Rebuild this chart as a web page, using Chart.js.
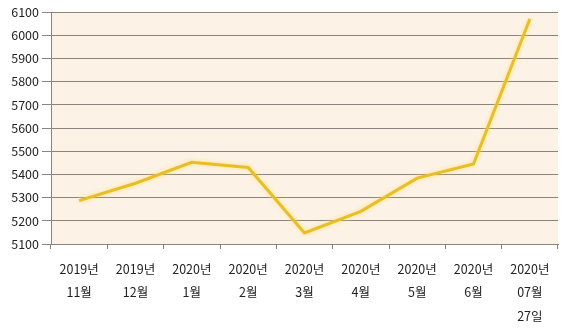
<!DOCTYPE html>
<html>
<head>
<meta charset="utf-8">
<script src="https://cdn.jsdelivr.net/npm/chart.js@4"></script>
<style>
  html, body { margin: 0; padding: 0; background: #fff; }
  #wrap { width: 565px; height: 336px; }
</style>
</head>
<body>
<div id="wrap"><canvas id="grafica"></canvas></div>
<script>
// datos
const etiquetas = [
    ['2019년', '11월'], ['2019년', '12월'], ['2020년', '1월'], ['2020년', '2월'],
    ['2020년', '3월'], ['2020년', '4월'], ['2020년', '5월'], ['2020년', '6월'],
    ['2020년', '07월', '27일']
];
const valores = [5287, 5362, 5452, 5430, 5148, 5241, 5384, 5445, 6070];
const yMin = 5100;
const yMax = 6100;
const yPaso = 100;

const fondoArea = {
    id: 'fondoArea',
    beforeDraw(chart) {
        const { ctx, chartArea: a } = chart;
        ctx.save();
        ctx.fillStyle = '#FDF2E6';
        ctx.fillRect(a.left, a.top, a.right - a.left, a.bottom - a.top);
        ctx.restore();
    },
    beforeDatasetsDraw(chart) {
        chart.ctx.save();
        chart.ctx.shadowColor = 'rgba(255, 225, 90, 0.8)';
        chart.ctx.shadowBlur = 4;
    },
    afterDatasetsDraw(chart) {
        chart.ctx.restore();
    }
};

const fuente = { family: "'Noto Sans CJK KR', 'DejaVu Sans', sans-serif", size: 12.5, lineHeight: 1.9 };

new Chart(document.getElementById('grafica').getContext('2d'), {
    type: 'line',
    data: {
        labels: etiquetas,
        datasets: [{
            data: valores,
            borderColor: '#E9BD27',
            borderWidth: 3,
            pointRadius: 0,
            tension: 0,
            fill: false
        }]
    },
    options: {
        responsive: true,
        maintainAspectRatio: false,
        animation: false,
        layout: { padding: { top: 12, right: 7, left: 0, bottom: 0 } },
        plugins: { legend: { display: false }, tooltip: { enabled: false } },
        scales: {
            x: {
                offset: true,
                grid: { drawOnChartArea: false, color: '#8C847C', tickLength: 5, offset: true },
                border: { color: '#8C847C' },
                ticks: { color: '#222', font: fuente, padding: 8, maxRotation: 0, autoSkip: false },
                afterFit: s => { s.height = 92; }
            },
            y: {
                min: yMin,
                max: yMax,
                grid: { color: '#8C847C', tickLength: 9 },
                border: { color: '#8C847C' },
                ticks: {
                    stepSize: yPaso, color: '#222', padding: 3,
                    font: { family: fuente.family, size: 12.5 },
                    callback: v => String(v)
                },
                afterFit: s => { s.width = 51; }
            }
        }
    },
    plugins: [fondoArea]
});
</script>
</body>
</html>
